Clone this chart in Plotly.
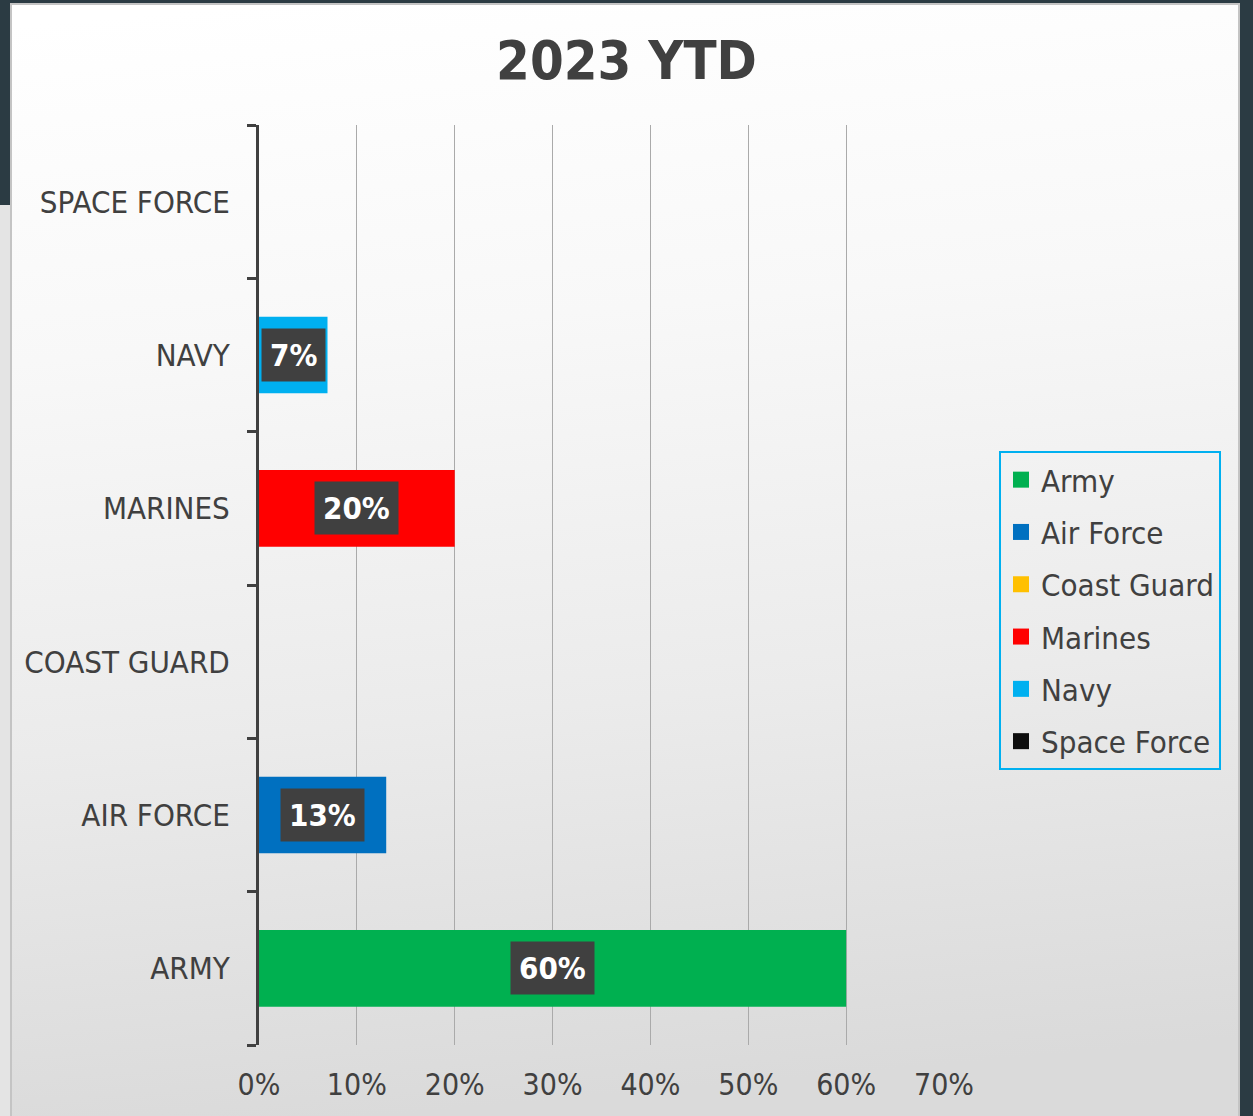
import base64
import plotly.graph_objects as go

# ---- data ----
categories = ["ARMY", "AIR FORCE", "COAST GUARD", "MARINES", "NAVY", "SPACE FORCE"]
series_names = ["Army", "Air Force", "Coast Guard", "Marines", "Navy", "Space Force"]
values = [0.60, 0.13, 0.00, 0.20, 0.07, 0.00]
colors = ["#00B050", "#0070C0", "#FFC000", "#FF0000", "#00B0F0", "#0D0D0D"]
x_ticks = [0, 0.1, 0.2, 0.3, 0.4, 0.5, 0.6, 0.7]
x_tick_labels = ["0%", "10%", "20%", "30%", "40%", "50%", "60%", "70%"]
title_text = "2023 YTD"

W, H = 1253, 1116
FONT = "DejaVu Sans Condensed"
TXT = "#404040"

def px(x):
    return x / W

def py(y):
    return 1 - y / H

fig = go.Figure()
for name, cat, v, c in zip(series_names, categories, values, colors):
    fig.add_trace(go.Bar(
        name=name, y=[cat], x=[v], orientation="h", width=0.5,
        marker=dict(color=c, line=dict(width=0)),
        legendgroup=name, showlegend=False, hoverinfo="skip",
    ))
# legend entries (square swatches)
for name, c in zip(series_names, colors):
    fig.add_trace(go.Scatter(
        name=name, x=[None], y=[None], mode="markers",
        marker=dict(symbol="square", size=16, color=c, line=dict(width=0)),
        legendgroup=name, showlegend=True, hoverinfo="skip",
    ))

annotations = []
for cat, v in zip(categories, values):
    if v > 0:
        annotations.append(dict(
            x=v / 2, y=cat, xref="x", yref="y",
            text=f"{v*100:.0f}%", showarrow=False,
            font=dict(family=FONT, size=31, color="white", weight="bold"),
            bgcolor="#404040", borderpad=8,
        ))

svg = (
    '<svg xmlns="http://www.w3.org/2000/svg" width="100" height="100" preserveAspectRatio="none">'
    '<defs><linearGradient id="g" x1="0.2" y1="0" x2="0.3" y2="1">'
    '<stop offset="0" stop-color="#ffffff"/>'
    '<stop offset="0.3" stop-color="#f8f8f8"/>'
    '<stop offset="0.65" stop-color="#ebebeb"/>'
    '<stop offset="1" stop-color="#dadada"/>'
    '</linearGradient></defs>'
    '<rect width="100" height="100" fill="url(#g)"/></svg>'
)
svg_uri = "data:image/svg+xml;base64," + base64.b64encode(svg.encode()).decode()

fig.update_layout(
    width=W, height=H,
    margin=dict(l=0, r=0, t=0, b=0),
    paper_bgcolor="#2B3B43",
    plot_bgcolor="rgba(0,0,0,0)",
    barmode="overlay",
    title=dict(text=title_text, x=0.5, xref="paper", xanchor="center",
               y=py(60), yref="paper", yanchor="middle",
               font=dict(family=FONT, size=54, color=TXT, weight="bold")),
    xaxis=dict(
        domain=[px(259), px(944)], range=[0, 0.7],
        tickvals=x_ticks, ticktext=x_tick_labels,
        showgrid=True, gridcolor="#aaaaaa", gridwidth=1.3,
        zeroline=False, showline=False, ticks="",
        tickfont=dict(family=FONT, size=30, color=TXT),
        ticklabelstandoff=19, automargin=False, fixedrange=True,
    ),
    yaxis=dict(
        domain=[py(1045), py(125)],
        type="category", categoryorder="array", categoryarray=categories,
        showline=True, linecolor="#404040", linewidth=3,
        ticks="outside", tickson="boundaries", ticklen=9, tickwidth=3, tickcolor="#404040",
        showgrid=False, zeroline=False,
        tickfont=dict(family=FONT, size=31, color=TXT),
        ticklabelstandoff=20, automargin=False, fixedrange=True,
    ),
    legend=dict(
        x=px(999), y=py(451), xanchor="left", yanchor="top",
        xref="paper", yref="paper",
        bordercolor="#00B0F0", borderwidth=2, bgcolor="rgba(0,0,0,0)",
        font=dict(family=FONT, size=31, color=TXT),
        traceorder="grouped", tracegroupgap=9, itemwidth=30,
        itemclick=False, itemdoubleclick=False,
    ),
    annotations=annotations,
    images=[dict(source=svg_uri, xref="paper", yref="paper",
                 x=px(11), y=py(4), sizex=px(1239) - px(11), sizey=py(4),
                 sizing="stretch", xanchor="left", yanchor="top", layer="below")],
    shapes=[
        dict(type="rect", xref="paper", yref="paper", x0=0, x1=px(10), y0=0, y1=py(205),
             fillcolor="#e4e4e4", line=dict(width=0), layer="below"),
        dict(type="rect", xref="paper", yref="paper", x0=px(11), x1=px(1239), y0=-0.01, y1=py(4),
             fillcolor="rgba(0,0,0,0)", line=dict(color="#c4c4c4", width=2), layer="above"),
    ],
    showlegend=True,
)

fig.write_html("out.html",
               config={"displayModeBar": False},
               post_script="document.body.style.margin='0';document.body.style.overflow='hidden';")
